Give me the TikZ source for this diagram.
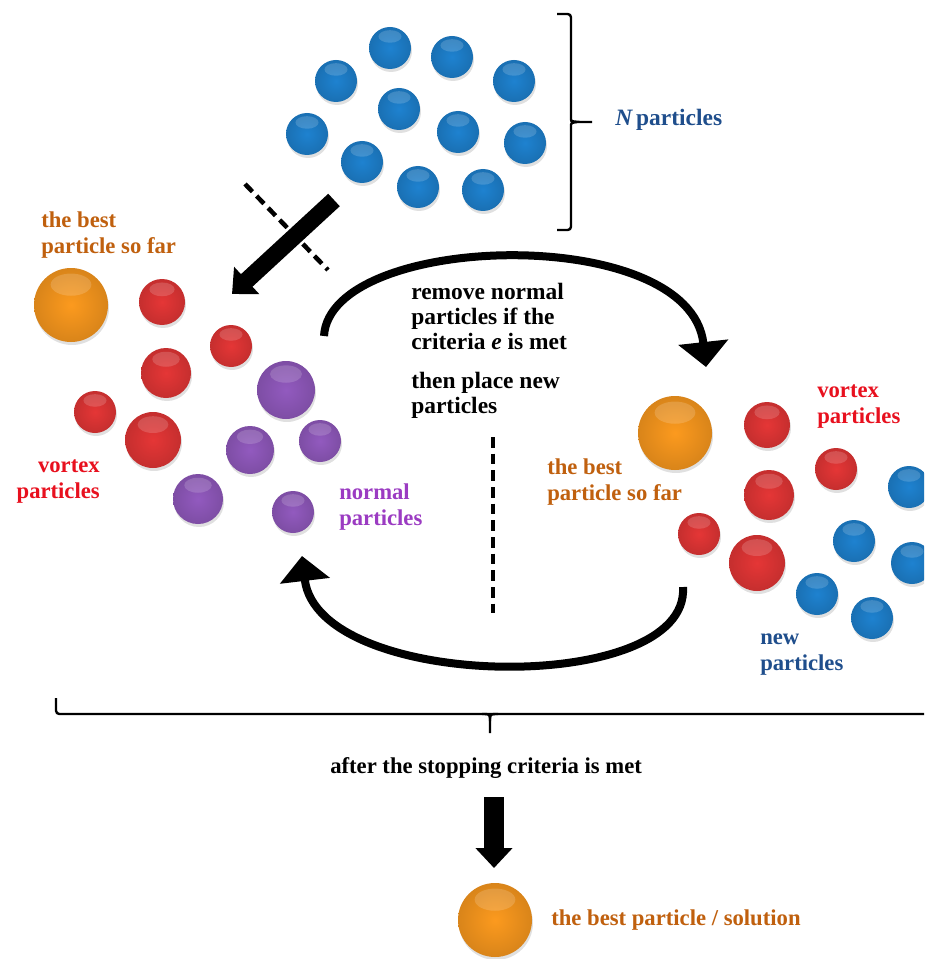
\documentclass[tikz,border=0pt]{standalone}
\usepackage{fontspec}
\setmainfont{Liberation Serif}
\usetikzlibrary{arrows.meta}
\definecolor{cblue}{HTML}{1E82D0}
\definecolor{cred}{HTML}{E53636}
\definecolor{cpurple}{HTML}{925ABF}
\definecolor{corange}{HTML}{FC9A1E}
\definecolor{torange}{HTML}{C0600E}
\definecolor{tred}{HTML}{E8101E}
\definecolor{tpurple}{HTML}{9B3BC2}
\definecolor{tblue}{HTML}{1F4E8C}
\tikzset{
  ballsty/.style={circle, inner sep=0pt, shading=radial, inner color=#1, outer color=#1!86!black},
  lbl/.style={inner sep=0pt, font=\fontsize{17}{19.5}\selectfont\bfseries, align=left},
  lblw/.style={inner sep=0pt, font=\fontsize{17.6}{19.5}\selectfont\bfseries, align=left},
  lblc/.style={inner sep=0pt, font=\fontsize{17.6}{18.75}\selectfont\bfseries, align=left},
  cyclearrow/.style={line width=6pt, -{Triangle[length=18.75pt, width=36.75pt]}},
  fatarrow/.style={line width=#1, -{Triangle[length=15pt, width=27pt]}},
  dashline/.style={line width=3.4pt, dash pattern=on 8pt off 4.5pt},
  bracesty/.style={line width=1.8pt, rounded corners=2.5pt}
}
\newcommand\pball[5]{%
  \fill[black,opacity=0.12] (#2+1,#3+3) circle[radius=#4];
  \node[ballsty=#5, minimum size=#4*1.5pt] (#1) at (#2,#3) {};
  \fill[white,opacity=0.16] (#2,#3-#4*0.55) ellipse[x radius=#4*0.55, y radius=#4*0.3];
}
\begin{document}
\begin{tikzpicture}[x=0.75pt,y=-0.75pt]
\useasboundingbox (0,0) rectangle (924,959);
\clip (0,0) rectangle (924,959);
\fill[white] (0,0) rectangle (924,959);

% top cluster: N particles
\pball{n1}{390}{48}{21}{cblue}
\pball{n2}{452}{57}{21}{cblue}
\pball{n3}{336}{81}{21}{cblue}
\pball{n4}{514}{81}{21}{cblue}
\pball{n5}{399}{109}{21}{cblue}
\pball{n6}{307}{134}{21}{cblue}
\pball{n7}{458}{132}{21}{cblue}
\pball{n8}{525}{143}{21}{cblue}
\pball{n9}{362}{162}{21}{cblue}
\pball{n10}{418}{187}{21}{cblue}
\pball{n11}{483}{190}{21}{cblue}

% right brace for N particles
\draw[bracesty] (557,14) -- (571,14) -- (571,116) .. controls (571,121) .. (577,122) -- (592,122);
\draw[bracesty] (557,230) -- (571,230) -- (571,128) .. controls (571,123) .. (577,122);
\node[lblw, text=tblue, anchor=base west] (tN) at (615,126) {{\itshape N}\,particles};

% left cluster
\pball{lo}{71}{305}{37}{corange}
\pball{lr1}{162}{302}{23}{cred}
\pball{lr2}{231}{346}{21}{cred}
\pball{lr3}{166}{373}{25}{cred}
\pball{lr4}{95}{412}{21}{cred}
\pball{lr5}{153}{440}{28}{cred}
\pball{lp1}{286}{390}{29}{cpurple}
\pball{lp2}{250}{450}{24}{cpurple}
\pball{lp3}{320}{441}{21}{cpurple}
\pball{lp4}{198}{499}{25}{cpurple}
\pball{lp5}{293}{512}{21}{cpurple}

\node[lbl, text=torange, anchor=base west] (tBestL) at (41,253) {the best\\particle so far};
\node[lbl, text=tred, anchor=base east, align=right] (tVortL) at (100,498) {vortex\\particles};
\node[lbl, text=tpurple, anchor=base west] (tNormal) at (339,525) {normal\\particles};

% right cluster
\pball{ro}{675}{433}{37}{corange}
\pball{rr1}{767}{425}{23}{cred}
\pball{rr2}{836}{469}{21}{cred}
\pball{rr3}{769}{495}{25}{cred}
\pball{rr4}{699}{534}{21}{cred}
\pball{rr5}{757}{563}{28}{cred}
\pball{rb1}{909}{487}{21}{cblue}
\pball{rb2}{854}{541}{21}{cblue}
\pball{rb3}{912}{563}{21}{cblue}
\pball{rb4}{817}{594}{21}{cblue}
\pball{rb5}{872}{618}{21}{cblue}

\node[lbl, text=tred, anchor=base west] (tVortR) at (817,423) {vortex\\particles};
\node[lbl, text=torange, anchor=base west] (tBestR) at (547,500) {the best\\particle so far};
\node[lbl, text=tblue, anchor=base west] (tNew) at (760,670) {new\\particles};

% centre text
\node[lblc, anchor=base west] (tCentre) at (411,413) {remove normal\\particles if the\\criteria {\itshape e} is met\\[10.5pt]then place new\\particles};

% dashed lines
\coordinate (d1a) at (245,184);
\coordinate (d1b) at (328,270);
\draw[dashline] (d1a) -- (d1b);
\coordinate (d2a) at (493,437);
\coordinate (d2b) at (493,613);
\draw[dashline] (d2a) -- (d2b);

% arrow from N particles to left cluster
\coordinate (a1s) at (334,200);
\coordinate (a1e) at (232,294);
\draw[fatarrow=12.75pt] (a1s) -- (a1e);

% cycle arrows
\coordinate (c1s) at (324,336);
\coordinate (c1e) at (706,367);
\draw[cyclearrow] (c1s) .. controls (330,232) and (690,222) .. (c1e);
\coordinate (c2s) at (683,587);
\coordinate (c2e) at (302,556);
\draw[cyclearrow] (c2s) .. controls (690,697) and (318,692) .. (c2e);

% bottom brace
\draw[bracesty] (56,698) -- (56,714) -- (930,714);
\draw[line width=1.8pt] (482,714) .. controls (490,714) .. (490,721) -- (490,733);
\draw[line width=1.8pt] (498,714) .. controls (490,714) .. (490,721);

\node[lbl, anchor=base west] (tStop) at (330,773) {after the stopping criteria is met};

\coordinate (a2s) at (494,797);
\coordinate (a2e) at (494,868);
\draw[fatarrow=15pt] (a2s) -- (a2e);

\pball{sol}{495}{920}{37}{corange}
\node[lbl, text=torange, anchor=base west] (tSol) at (551,925) {the best particle / solution};
\end{tikzpicture}
\end{document}
